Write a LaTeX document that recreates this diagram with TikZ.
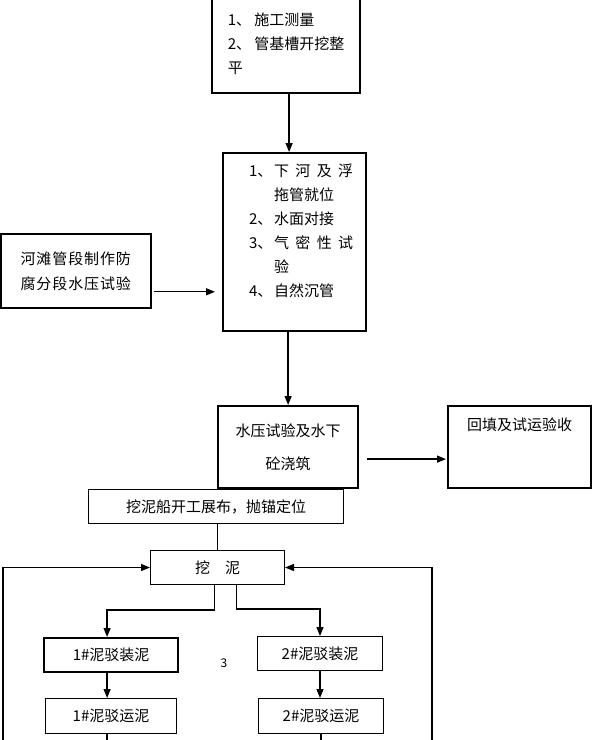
\documentclass[tikz,border=0pt]{standalone}
\usepackage{fontspec}
\newfontfamily\cjk{Noto Sans CJK SC}
\usetikzlibrary{arrows.meta,positioning,calc}
\newcommand{\stepno}[1]{\makebox[38pt][l]{\hspace*{13pt}#1}}

\begin{document}
\begin{tikzpicture}[x=1pt, y=-1pt,
  every node/.style={font=\cjk\fontsize{15}{24}\selectfont},
  thickbox/.style={draw, line width=2.2pt, inner sep=0pt, anchor=north west},
  thinbox/.style={draw, line width=1pt, inner sep=0pt, anchor=north west},
  arr/.style={line width=1.3pt, -{Triangle[length=9pt,width=7pt]}},
  link/.style={line width=1.1pt}]
  \useasboundingbox (0,0) rectangle (592,740);
  \clip (0,0) rectangle (592,740);

  % upper chain
  \node[thickbox, minimum width=148pt, minimum height=98pt, align=left] (survey) at (211,-6)
    {1、 施工测量\\2、 管基槽开挖整\\平};
  \node[thickbox, minimum width=143pt, minimum height=178pt, align=left] (sink) at (222,152)
    {\stepno{1、}\makebox[79pt][s]{下 河 及 浮}\\
     \hspace*{38pt}拖管就位\\
     \stepno{2、}水面对接\\
     \stepno{3、}\makebox[79pt][s]{气 密 性 试}\\
     \hspace*{38pt}验\\
     \stepno{4、}自然沉管\\ \mbox{}};
  \node[thickbox, line width=1.6pt, minimum width=150pt, minimum height=74pt, align=left,
    font=\cjk\fontsize{15}{25}\selectfont\addfontfeature{LetterSpace=6}] (shore) at (0,233)
    {河滩管段制作防\\腐分段水压试验};
  \node[thickbox, minimum width=140pt, minimum height=82pt, align=center] (test) at (217,405)
    {水压试验及水下\\[9pt]砼浇筑};
  \node[thickbox, minimum width=143pt, minimum height=82pt, align=center] (backfill) at (447,405)
    {回填及试运验收\\[22pt]\mbox{}};

  % dredging loop
  \node[thinbox, minimum width=255pt, minimum height=34pt] (dredger) at (88,489)
    {挖泥船开工展布，抛锚定位};
  \node[thinbox, minimum width=134pt, minimum height=34pt] (dig) at (150,550)
    {挖\hspace{15pt}泥};
  \node[thickbox, minimum width=134pt, minimum height=34pt] (load1) at (43,637) {1\#泥驳装泥};
  \node[thinbox, minimum width=125pt, minimum height=34pt] (load2) at (257,636) {2\#泥驳装泥};
  \node[thinbox, minimum width=131pt, minimum height=35pt] (haul1) at (45,698) {1\#泥驳运泥};
  \node[thinbox, minimum width=125pt, minimum height=35pt] (haul2) at (258,698) {2\#泥驳运泥};
  \node[font=\cjk\fontsize{12}{14}\selectfont] (pageno) at (224,663) {3};

  \coordinate (in3) at ([yshift=-21pt]shore.east);
  \coordinate (out4) at ([yshift=-12pt]test.east);
  \coordinate (lbot) at (3,746);
  \coordinate (rbot) at (432,746);

  \draw[arr] ([xshift=3pt]survey.south) -- ([xshift=3pt]survey.south |- sink.north);
  \draw[arr] (sink.south -| test.north) -- (test.north);
  \draw[arr, shorten <=2pt, shorten >=7pt] (in3) -- (in3 -| sink.west);
  \draw[arr, shorten <=8pt, shorten >=1pt] (out4) -- (out4 -| backfill.west);
  \draw[link] (dredger.south -| dig.north) -- (dig.north);
  \draw[arr] ([xshift=-3pt]dig.south) -- ++(0,25) -| ([xshift=-4pt]load1.north);
  \draw[arr] ([xshift=19pt]dig.south) -- ++(0,24) -| (load2.north);
  \draw[arr] ([xshift=-4pt]load1.south) -- ([xshift=-4pt]load1.south |- haul1.north);
  \draw[arr] (load2.south) -- (load2.south |- haul2.north);
  \draw[link] ([xshift=-4pt]haul1.south) -- ++(0,12);
  \draw[link] (haul2.south) -- ++(0,12);
  \draw[arr] (lbot) |- (dig.west);
  \draw[arr] (rbot) |- (dig.east);
\end{tikzpicture}
\end{document}
